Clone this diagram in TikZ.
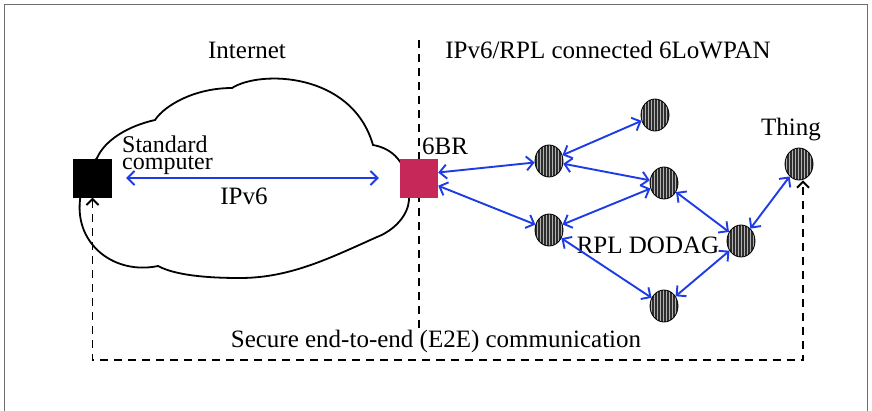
\documentclass[tikz,border=0pt]{standalone}
\usepackage{fontspec}
\setmainfont{Liberation Serif}
\usetikzlibrary{arrows.meta,patterns,shapes.geometric}
\definecolor{linkblue}{RGB}{30,60,230}
\definecolor{brred}{RGB}{198,40,90}
\definecolor{framegray}{RGB}{110,110,110}
\tikzset{
  lbl/.style={font=\fontsize{25}{27}\selectfont, inner sep=0pt},
  pclbl/.style={font=\fontsize{24}{26}\selectfont, inner sep=0pt, anchor=base west},
  sensor/.style={ellipse, draw=black, line width=0.8pt, minimum width=28pt, minimum height=32pt, inner sep=0pt,
    preaction={fill=black!82}, pattern=vertical lines, pattern color=gray!60},
  link/.style={draw=linkblue, line width=1.9pt, {Straight Barb[length=7pt,width=14pt]}-{Straight Barb[length=7pt,width=14pt]}},
  dashline/.style={draw=black, line width=1.9pt, dash pattern=on 8pt off 6pt},
  boxnode/.style={minimum width=39pt, minimum height=39pt, inner sep=0pt}
}
\begin{document}
\begin{tikzpicture}[x=1pt,y=-1pt]
\useasboundingbox (0,0) rectangle (872,410);
\fill[white] (0,0) rectangle (872,410);
% frame
\draw[framegray, line width=1pt] (4,412) -- (4,4) -- (867,4) -- (867,412);
% separator
\coordinate (septop) at (419,40);
\coordinate (sepbot) at (419,330);
\draw[dashline] (septop) -- (sepbot);
% cloud
\draw[black, line width=1.8pt]
  (97,158) .. controls (105,140) and (128,126) .. (155,120)
  .. controls (165,105) and (195,88) .. (232,88)
  .. controls (260,70) and (352,72) .. (373,145)
  .. controls (390,148) and (410,160) .. (409,200)
  .. controls (408,215) and (395,230) .. (377,237)
  .. controls (330,258) and (290,278) .. (240,278)
  .. controls (205,278) and (175,275) .. (158,266)
  .. controls (115,275) and (75,245) .. (80,200)
  .. controls (82,180) and (90,165) .. cycle;
% computers
\node[boxnode, fill=black] (pc) at (92.5,178) {};
\node[boxnode, fill=brred, minimum width=38pt] (br) at (419,178) {};
% sensors
\node[sensor] (n1) at (549,161) {};
\node[sensor] (n2) at (655,115) {};
\node[sensor] (n3) at (664,183) {};
\node[sensor] (n4) at (549,230) {};
\node[sensor] (n5) at (741,241) {};
\node[sensor] (n6) at (664,306) {};
\node[sensor] (thing) at (799,164) {};
% labels
\node[lbl] (tinternet) at (247,50) {Internet};
\node[lbl] (tlowpan) at (608,50) {IPv6/RPL connected 6LoWPAN};
\node[pclbl] (tpc1) at (122,152) {Standard};
\node[pclbl] (tpc2) at (122,169) {computer};
\node[lbl] (tipv6) at (244,196) {IPv6};
\node[lbl, anchor=west] (tbr) at (422,146) {6BR};
\node[lbl] (tthing) at (791,130) {Thing};
\node[lbl] (tdodag) at (648,245) {RPL DODAG};
\node[lbl] (te2e) at (436,341) {Secure end-to-end (E2E) communication};
% links
\draw[link, shorten <=14pt, shorten >=21pt] (pc) -- (br);
\draw[link] (br.16) -- (n1);
\draw[link] (br.-22) -- (n4);
\draw[link] (n1) -- (n2);
\draw[link] (n1) -- (n3);
\draw[link] (n4) -- (n3);
\draw[link] (n4) -- (n6);
\draw[link] (n3) -- (n5);
\draw[link] (n6) -- (n5);
\draw[link] (n5) -- (thing);
% E2E
\coordinate (e2eb) at (440,360);
\draw[dashline, {Straight Barb[length=6pt,width=12pt]}-{Straight Barb[length=6pt,width=12pt]}]
  (pc.south) |- (e2eb) -| ([xshift=4pt]thing.south);
\end{tikzpicture}
\end{document}
